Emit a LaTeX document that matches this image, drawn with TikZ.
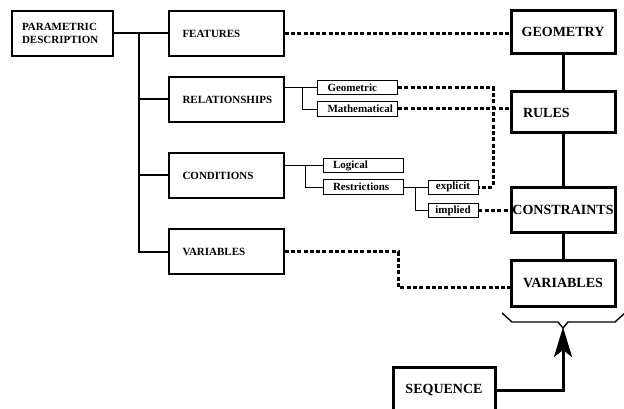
\documentclass[tikz,border=0pt]{standalone}
\usepackage{fontspec}
\setmainfont{Liberation Serif}
\usetikzlibrary{arrows.meta,positioning}

\begin{document}
\begin{tikzpicture}[x=1pt, y=-1pt,
    leftbox/.style={draw, line width=1.2pt, minimum height=45pt, text width=88pt,
      inner xsep=13.5pt, align=left, font=\fontsize{11}{13.5}\selectfont\bfseries},
    subbox/.style={draw, line width=0.8pt, minimum height=14.5pt, text width=60pt,
      inner xsep=10pt, inner ysep=0pt, align=left, font=\fontsize{11}{12}\selectfont\bfseries},
    tagbox/.style={draw, line width=0.8pt, minimum height=14pt, minimum width=50pt,
      inner xsep=2pt, inner ysep=0pt, font=\fontsize{11}{12}\selectfont\bfseries},
    rightbox/.style={draw, line width=3pt, minimum width=104pt, minimum height=43pt,
      inner xsep=0.5pt, font=\fontsize{14}{16}\selectfont\bfseries},
    trunk/.style={line width=2pt},
    link/.style={line width=0.9pt},
    thicklink/.style={line width=3pt},
    dotlink/.style={line width=3pt, dash pattern=on 4pt off 2.3pt}]

    \useasboundingbox (0,0) rectangle (624,409);

    \coordinate (PD) at (62.5, 33.5);
    \coordinate (F) at (226.5, 33.5);
    \coordinate (R) at (226.5, 99.5);
    \coordinate (C) at (226.5, 175.5);
    \coordinate (V) at (226.5, 251.5);

    % left column
    \node [leftbox, text width=81pt, inner xsep=10pt] (pd) at (PD) {PARAMETRIC\\DESCRIPTION};
    \node [leftbox] (feat) at (F) {FEATURES};
    \node [leftbox] (rel) at (R) {RELATIONSHIPS};
    \node [leftbox] (cond) at (C) {CONDITIONS};
    \node [leftbox] (var) at (V) {VARIABLES};

    % sub boxes
    \node [subbox] (geom) at (357.5, 87.5) {Geometric};
    \node [subbox] (math) at (357.5, 109) {Mathematical};
    \node [subbox] (logic) at (363, 165.5) {Logical};
    \node [subbox] (restr) at (363, 187) {Restrictions};
    \node [tagbox] (expl) at (453, 187) {explicit};
    \node [tagbox] (impl) at (453, 210.5) {implied};

    % right column
    \node [rightbox] (geoR) at (563, 32) {GEOMETRY};
    \node [rightbox, minimum height=41pt, text width=80pt, inner xsep=12pt, align=left] (rulesR) at (563, 112.5) {RULES};
    \node [rightbox, minimum height=45pt] (consR) at (563, 209.5) {CONSTRAINTS};
    \node [rightbox, minimum height=46pt] (varR) at (563, 283) {VARIABLES};
    \node [rightbox, minimum width=102pt, minimum height=46pt] (seq) at (444, 390) {SEQUENCE};

    % tree
    \coordinate (trunk) at (139, 33.5);
    \draw [trunk] (pd.east) -- (feat.west);
    \draw [trunk] (trunk) |- (var.west);
    \draw [trunk] (trunk |- rel.west) -- (rel.west);
    \draw [trunk] (trunk |- cond.west) -- (cond.west);

    \coordinate (relfork) at (302, 87.5);
    \draw [link] (rel.east |- relfork) -- (geom.west);
    \draw [link] (relfork) |- (math.west);

    \coordinate (condfork) at (305, 165.5);
    \draw [link] (cond.east |- condfork) -- (logic.west);
    \draw [link] (condfork) |- (restr.west);

    \coordinate (restrfork) at (415, 187);
    \draw [link] (restr.east) -- (expl.west);
    \draw [link] (restrfork) |- (impl.west);

    % dotted links
    \coordinate (explbend) at (493, 187);
    \coordinate (varbend) at (398, 287);
    \draw [dotlink] (feat.east) -- (feat.east -| geoR.west);
    \draw [dotlink] (geom.east) -| (explbend) -- (expl.east);
    \draw [dotlink] (math.east) -- (math.east -| rulesR.west);
    \draw [dotlink] (impl.east) -- (impl.east -| consR.west);
    \draw [dotlink] (var.east) -| (varbend) -- (varbend -| varR.west);

    % right chain
    \draw [thicklink] (geoR) -- (rulesR);
    \draw [thicklink] (rulesR) -- (consR);
    \draw [thicklink] (consR) -- (varR);

    % brace and sequence arrow
    \coordinate (bracetip) at (563, 328);
    \draw [line width=1.4pt] (502,313) -- (512,322) -- (558,322) -- (bracetip) -- (568,322) -- (615,322) -- (626,312);
    \draw [thicklink, -{Stealth[length=30pt, width=18pt, inset=7pt]}] (seq.east) -| ([yshift=1pt]bracetip);

  \end{tikzpicture}
\end{document}
